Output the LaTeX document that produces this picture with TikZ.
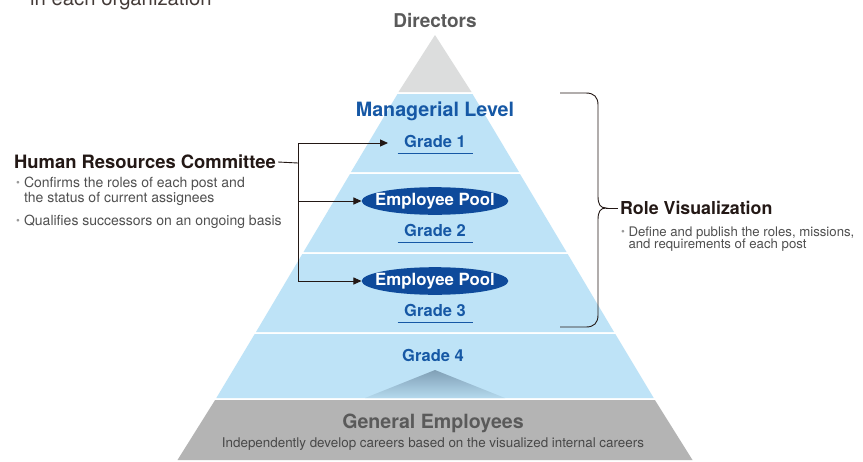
\documentclass[tikz,border=0pt]{standalone}
\usepackage{fontspec}
\setmainfont{TeX Gyre Heros}
\usetikzlibrary{arrows.meta,shapes.geometric}
\definecolor{bandblue}{RGB}{190,227,247}
\definecolor{dirgray}{RGB}{220,221,221}
\definecolor{gengray}{RGB}{180,180,180}
\definecolor{textblue}{RGB}{22,88,165}
\definecolor{poolblue}{RGB}{14,74,155}
\definecolor{darktext}{RGB}{35,24,21}
\definecolor{graytext}{RGB}{90,90,90}
\definecolor{smalltext}{RGB}{80,80,80}
\definecolor{shadetop}{RGB}{128,160,182}
\tikzset{
  fsz/.style={font=\fontsize{#1}{#1}\selectfont},
  gradelbl/.style={inner sep=0pt, text=textblue, font=\fontsize{16.5}{16.5}\selectfont\bfseries},
  uline/.style={draw=textblue, line width=1pt},
  pool/.style={ellipse, fill=poolblue, inner xsep=-8pt, inner ysep=1.8pt, text=white, font=\fontsize{16.8}{16.8}\selectfont\bfseries},
  heading/.style={inner sep=0pt, text=darktext, font=\fontsize{#1}{#1}\selectfont\bfseries},
  bodytxt/.style={inner sep=0pt, text=smalltext, font=\fontsize{14}{15}\selectfont, align=left},
  conn/.style={draw=darktext, line width=0.9pt},
  arr/.style={conn, -{Triangle[length=8pt,width=7pt]}},
}
\newcommand{\bul}{{\fontsize{11}{11}\selectfont\raisebox{1.2pt}{\textcolor{gray!80}{•}}}}
\begin{document}
\begin{tikzpicture}[x=1pt,y=-1pt]
\useasboundingbox (0,0) rectangle (863,461);
\clip (0,0) rectangle (863,461);
\fill[white] (0,0) rectangle (863,461);

% pyramid bands
\fill[dirgray] (435,35) -- (471.5,92) -- (398.5,92) -- cycle;
\fill[bandblue] (397.5,94) -- (472.5,94) -- (519,172) -- (351,172) -- cycle;
\fill[bandblue] (350,174) -- (520,174) -- (566.5,252) -- (303.5,252) -- cycle;
\fill[bandblue] (302.3,254) -- (567.7,254) -- (614,332) -- (256,332) -- cycle;
\fill[bandblue] (254.7,334) -- (615.3,334) -- (653.7,398) -- (216.3,398) -- cycle;
\shade[top color=shadetop, bottom color=bandblue!85!shadetop] (365,398) -- (435,370) -- (505,398) -- cycle;
\fill[gengray] (215.1,400) -- (654.9,400) -- (692.5,460) -- (177.5,460) -- cycle;

% top clipped caption
\node[anchor=base west, inner sep=0pt, text=darktext!85, fsz=20.3] (cap) at (30,5) {in each organization};

% titles
\node[inner sep=0pt, text=graytext, font=\fontsize{19}{19}\selectfont\bfseries] (dir) at (435,20.5) {Directors};
\node[inner sep=0pt, text=textblue, font=\fontsize{19.7}{19.7}\selectfont\bfseries] (mgr) at (435,111) {Managerial Level};

% grades
\node[gradelbl] (g1) at (435,141) {Grade 1};
\draw[uline] ([xshift=-37.5pt,yshift=-12pt]g1.center) -- ([xshift=37.5pt,yshift=-12pt]g1.center);
\node[pool] (p1) at (435,201) {Employee Pool};
\node[gradelbl] (g2) at (435,230) {Grade 2};
\draw[uline] ([xshift=-37.5pt,yshift=-12pt]g2.center) -- ([xshift=37.5pt,yshift=-12pt]g2.center);
\node[pool] (p2) at (435,281) {Employee Pool};
\node[gradelbl] (g3) at (435,310) {Grade 3};
\draw[uline] ([xshift=-37.5pt,yshift=-12pt]g3.center) -- ([xshift=37.5pt,yshift=-12pt]g3.center);
\node[gradelbl] (g4) at (433,355) {Grade 4};

% general employees
\node[inner sep=0pt, text=graytext, font=\fontsize{19.6}{19.6}\selectfont\bfseries] (gen) at (433,423) {General Employees};
\node[inner sep=0pt, text=smalltext!90!black, fsz=13.4] (gentxt) at (433,444) {Independently develop careers based on the visualized internal careers};

% Human Resources Committee
\node[heading=18.4, anchor=west] (hrc) at (14,162) {Human Resources Committee};
\node[bodytxt, anchor=north west] (hrcb1) at (16,177) {\begin{tabular}{@{}l@{\hspace{4pt}}l@{}}\bul & Confirms the roles of each post and\\ & the status of current assignees\end{tabular}};
\node[bodytxt, anchor=north west] (hrcb2) at (16,215) {\begin{tabular}{@{}l@{\hspace{4pt}}l@{}}\bul & Qualifies successors on an ongoing basis\end{tabular}};

\coordinate (jmid) at (298,163);
\coordinate (jtop) at (298,143);
\coordinate (jp1) at (298,201);
\coordinate (jbot) at (298,281);
\draw[conn] ([xshift=2pt]hrc.east) -- (jmid);
\draw[conn] (jtop) -- (jbot);
\draw[arr] (jtop) -- ([xshift=-16pt]g1.west |- jtop);
\draw[arr] (jp1) -- (p1.west);
\draw[arr] (jbot) -- (p2.west);

% Role Visualization brace
\coordinate (btop) at (560,93);
\coordinate (bbot) at (560,327);
\coordinate (btip) at (606,208);
\draw[conn] (btop) -- (586,93) .. controls (594,93) and (598,97) .. (598,105) -- (598,196) .. controls (598,204) and (600,208) .. (btip) .. controls (600,208) and (598,212) .. (598,220) -- (598,315) .. controls (598,323) and (594,327) .. (586,327) -- (bbot);
\node[heading=17.8, anchor=west] (rv) at (620,208) {Role Visualization};
\draw[conn] (btip) -- ([xshift=-2pt]rv.west);
\node[bodytxt, anchor=north west, align=left, font=\fontsize{13.2}{14.5}\selectfont] (rvb) at (621,226) {\begin{tabular}{@{}l@{\hspace{3.5pt}}l@{}}\bul & Define and publish the roles, missions,\\[-2pt] & and requirements of each post\end{tabular}};
\end{tikzpicture}
\end{document}
